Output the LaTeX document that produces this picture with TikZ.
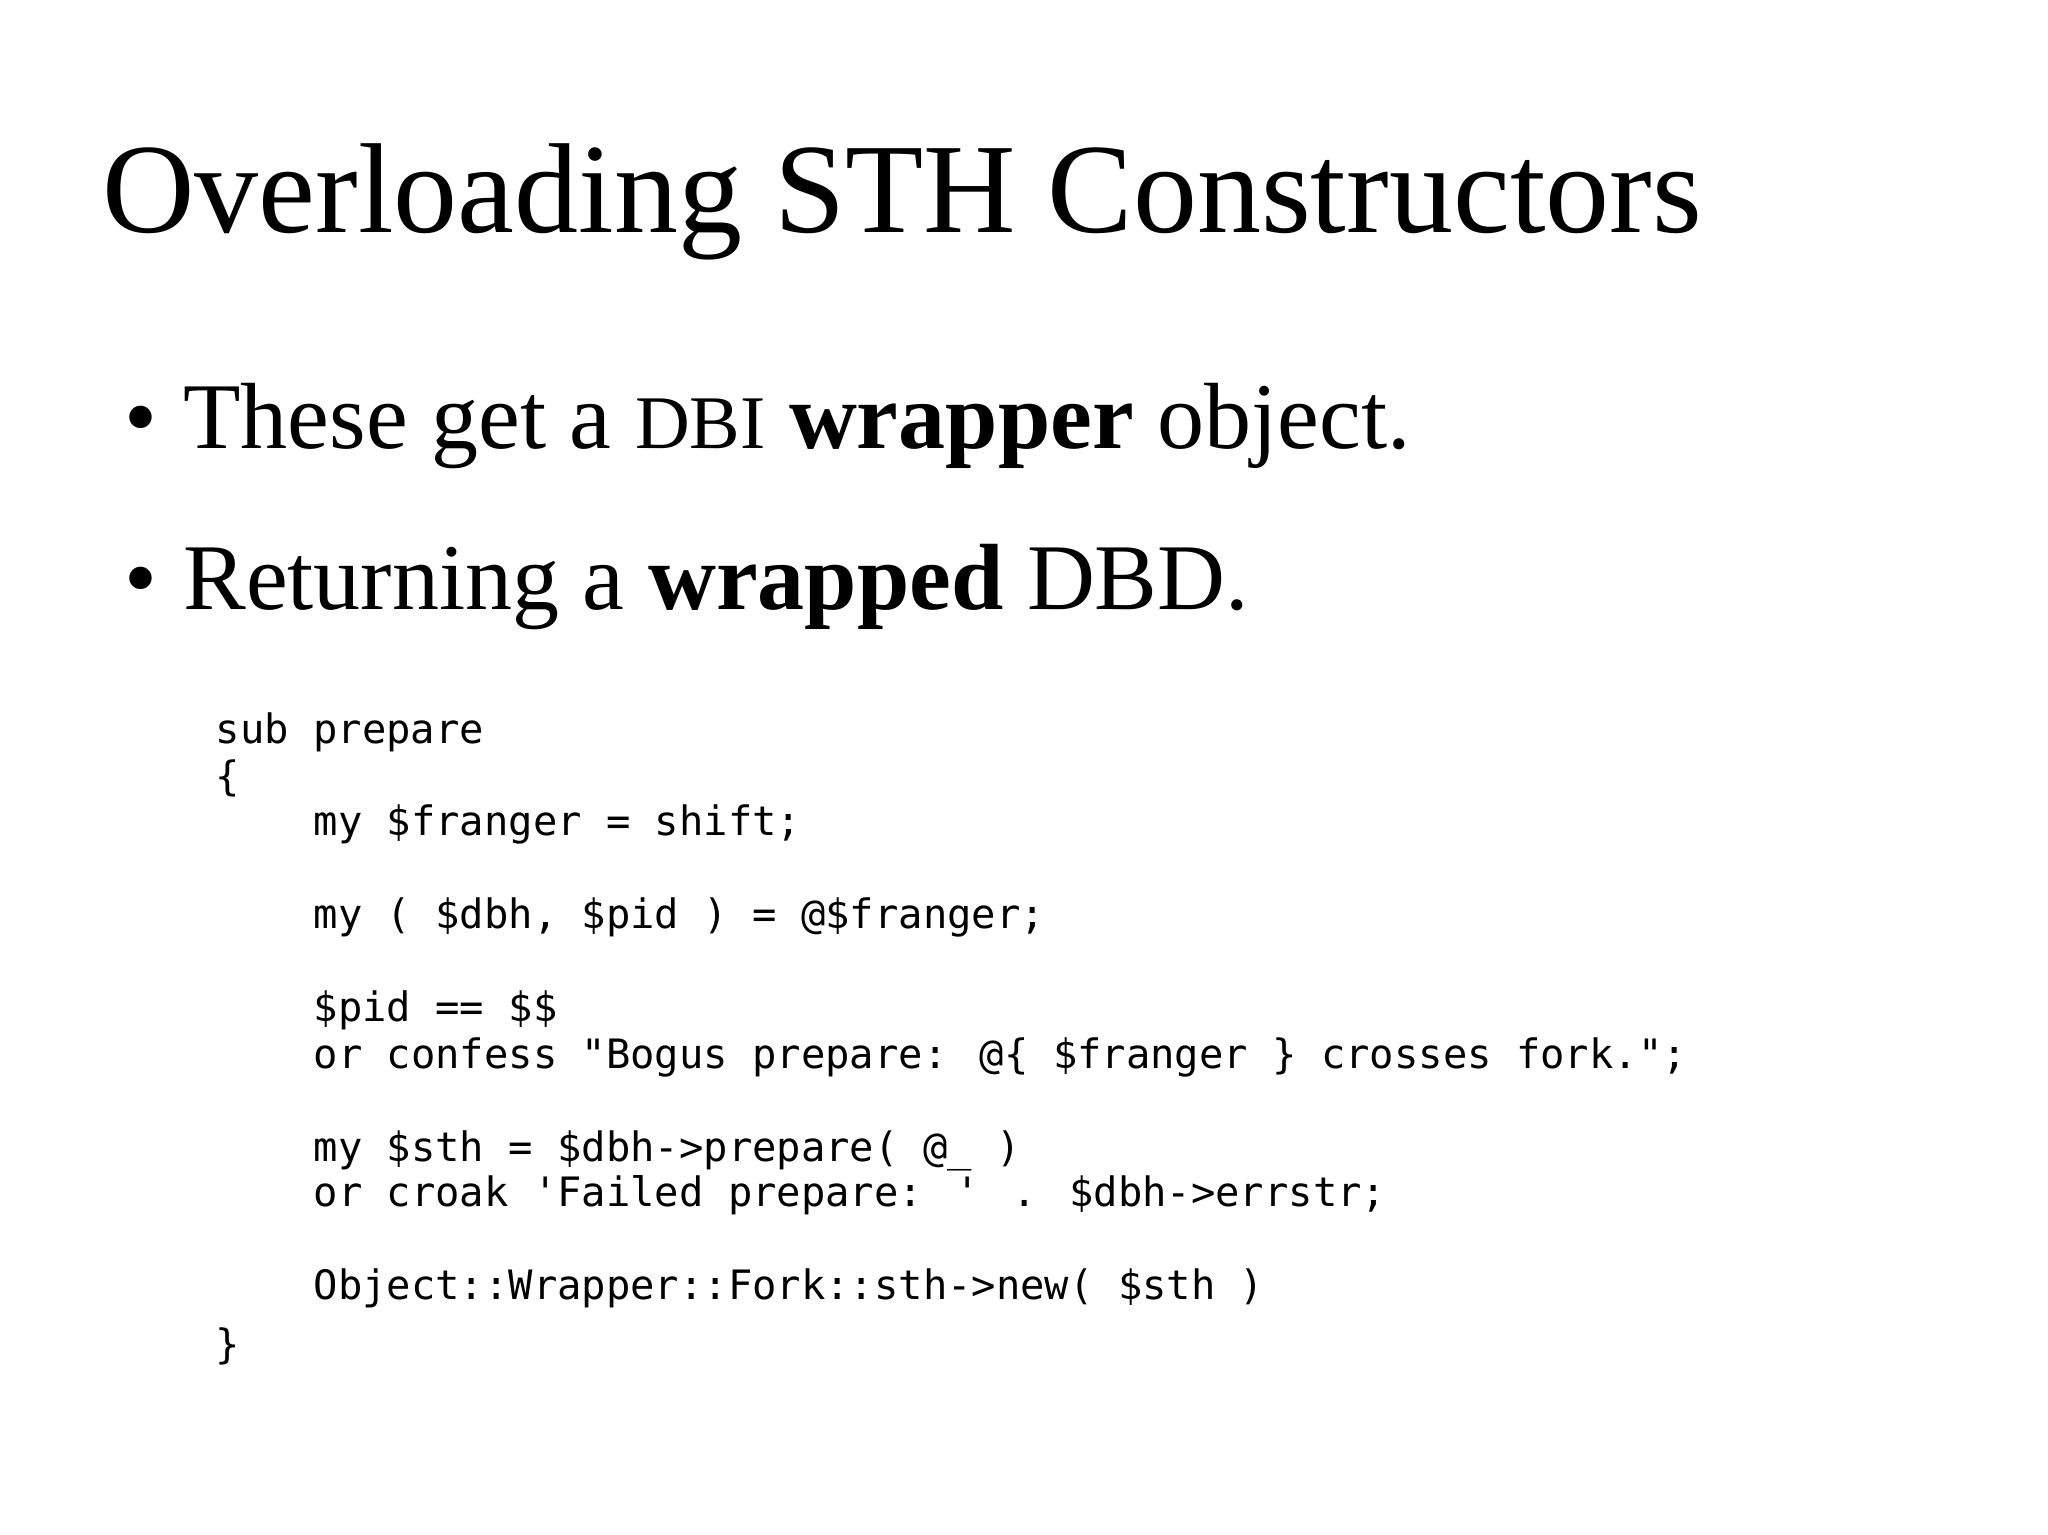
\documentclass[tikz,border=0pt]{standalone}
\usepackage{fontspec}
\setmainfont{Liberation Serif}
\newfontfamily\codefont{DejaVu Sans Mono}
\begin{document}
\begin{tikzpicture}[x=1pt,y=-1pt,
  txt/.style={anchor=base west,inner sep=0pt},
  code/.style={txt,font=\codefont\fontsize{31}{36}\selectfont}]
\useasboundingbox[fill=white] (0,0) rectangle (1568,1175);
\node[txt,font=\fontsize{98}{110}\selectfont] (title) at (78,178) {Overloading STH Constructors};
\node[txt,font=\fontsize{72}{80}\selectfont] (b1) at (95,343) {\textbullet\hspace{20pt}These get a {\fontsize{58}{60}\selectfont DBI} \textbf{wrapper} object.};
\node[txt,font=\fontsize{72}{80}\selectfont] (b2) at (95,467) {\textbullet\hspace{20pt}Returning a \textbf{wrapped} DBD.};
\node[code] (c1) at (165,569) {sub prepare};
\node[code] (c2) at (165,605) {\{};
\node[code] (c3) at (240,640) {my \$franger = shift;};
\node[code] (c4) at (240,711) {my ( \$dbh, \$pid ) = @\$franger;};
\node[code] (c5) at (240,782) {\$pid == \$\$};
\node[code] (c6) at (240,818) {or confess "Bogus prepare: @\{ \$franger \} crosses fork.";};
\node[code] (c7) at (240,889) {my \$sth = \$dbh->prepare( @\_ )};
\node[code] (c8) at (240,924) {or croak 'Failed prepare: ' . \$dbh->errstr;};
\node[code] (c9) at (240,995) {Object::Wrapper::Fork::sth->new( \$sth )};
\node[code] (c10) at (165,1040) {\}};
\end{tikzpicture}
\end{document}
